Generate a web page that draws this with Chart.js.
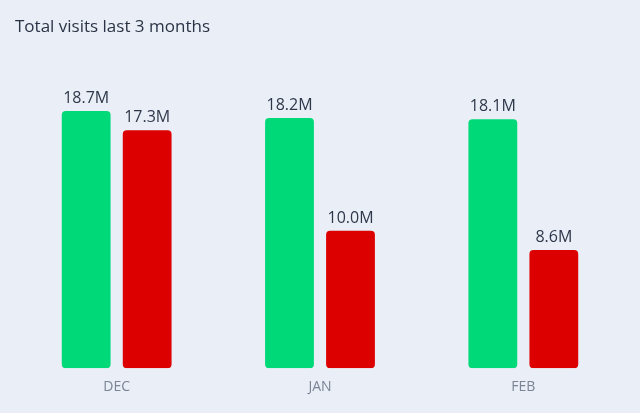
<!DOCTYPE html>
<html>
<head>
<meta charset="utf-8">
<script src="https://cdn.jsdelivr.net/npm/chart.js@4/dist/chart.umd.min.js"></script>
<style>
html,body{margin:0;padding:0;background:#e9eef7;}
#wrap{width:640px;height:413px;position:relative;}
</style>
</head>
<body>
<div id="wrap"><canvas id="c" width="640" height="413"></canvas></div>
<script>
const categories = ['DEC', 'JAN', 'FEB'];
const seriesA = [18.7, 18.2, 18.1];
const seriesB = [17.3, 10.0, 8.6];
const titleText = 'Total visits last 3 months';

const valueLabels = {
  id: 'valueLabels',
  afterDatasetsDraw(chart) {
    const ctx = chart.ctx;
    ctx.save();
    ctx.font = '16px "Open Sans"';
    ctx.fillStyle = '#2f384a';
    ctx.textAlign = 'center';
    ctx.textBaseline = 'alphabetic';
    chart.data.datasets.forEach((ds, i) => {
      chart.getDatasetMeta(i).data.forEach((bar, j) => {
        ctx.fillText(ds.data[j].toFixed(1) + 'M', bar.x, bar.y - 8);
      });
    });
    ctx.restore();
  }
};

new Chart(document.getElementById('c'), {
  type: 'bar',
  data: {
    labels: categories,
    datasets: [
      { data: seriesA, backgroundColor: '#00d977', borderRadius: 4, borderSkipped: false,
        categoryPercentage: 0.6, barPercentage: 0.8 },
      { data: seriesB, backgroundColor: '#dd0000', borderRadius: 4, borderSkipped: false,
        categoryPercentage: 0.6, barPercentage: 0.8 }
    ]
  },
  options: {
    responsive: false,
    animation: false,
    layout: { padding: { left: 15, right: 15, top: 0, bottom: 16 } },
    plugins: {
      legend: { display: false },
      tooltip: { enabled: false },
      title: {
        display: true, text: titleText, align: 'start',
        color: '#2b3445', font: { family: '"Open Sans"', size: 17, weight: 'normal' },
        padding: { top: 17, bottom: 42 }
      }
    },
    scales: {
      x: {
        grid: { display: false }, border: { display: false },
        ticks: { color: '#7b8494', font: { family: '"Open Sans"', size: 14 }, padding: 2 }
      },
      y: { display: false, min: 0, max: 21 }
    }
  },
  plugins: [valueLabels]
});
</script>
</body>
</html>
